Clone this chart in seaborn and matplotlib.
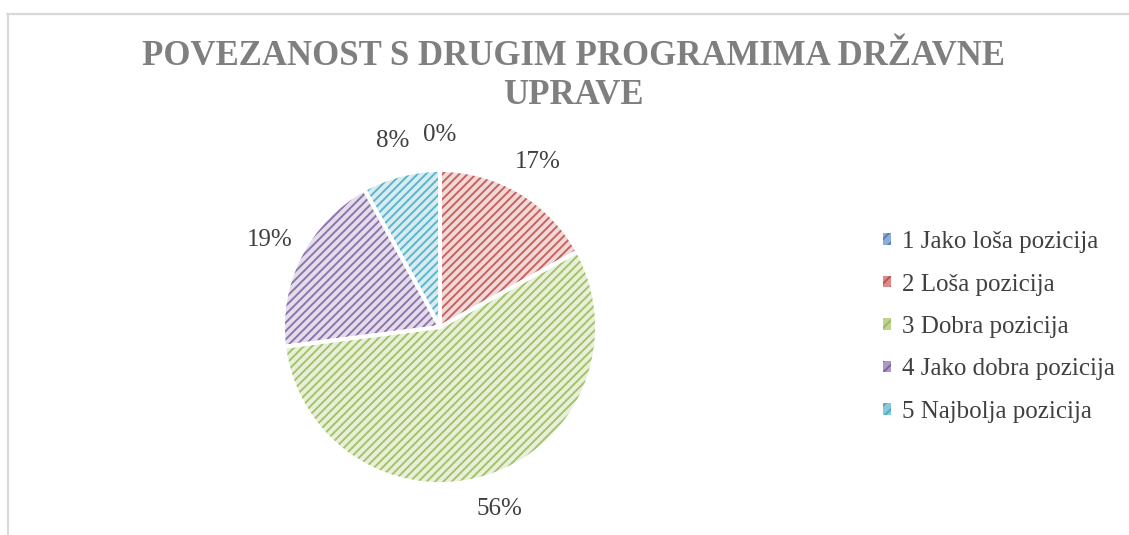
import matplotlib
matplotlib.use("Agg")
import matplotlib.pyplot as plt
import matplotlib.colors as mcolors
from matplotlib.lines import Line2D
from matplotlib.patches import Patch
import seaborn as sns

# data
categories = ["1 Jako loša pozicija", "2 Loša pozicija", "3 Dobra pozicija",
              "4 Jako dobra pozicija", "5 Najbolja pozicija"]
shares = [0, 17, 56, 19, 8]
colors = ["#4F81BD", "#C0504D", "#9BBB59", "#8064A2", "#4BACC6"]
title = "POVEZANOST S DRUGIM PROGRAMIMA DRŽAVNE\nUPRAVE"

sns.set_style("white")
plt.rcParams["font.family"] = ["Liberation Serif", "DejaVu Serif"]
plt.rcParams["hatch.linewidth"] = 1.4


def tint(c, amount=0.78):
    r, g, b = mcolors.to_rgb(c)
    return (r + (1 - r) * amount, g + (1 - g) * amount, b + (1 - b) * amount)


fig = plt.figure(figsize=(11.29, 5.35), dpi=100)
fig.patch.set_facecolor("white")

# pie center at (440, 327) px, radius 157 px -> axes spans 2.5 radius
r = 157
side = 2.5 * r
ax = fig.add_axes([(440 - side / 2) / 1129, (535 - 327 - side / 2) / 535,
                   side / 1129, side / 535])

# hatched fill: light tint + colored stripes
wedges, _ = ax.pie(shares, colors=[tint(c) for c in colors], startangle=90,
                   counterclock=False, wedgeprops=dict(linewidth=0))
for w, c in zip(wedges, colors):
    w.set_hatch("////")
    w.set_edgecolor(tint(c, 0.1))
    w.set_linewidth(0)

# white separators + percentage labels
_, _, pcts = ax.pie(shares, colors=["none"] * len(shares), startangle=90,
                    counterclock=False, autopct="%1.0f%%", pctdistance=1.22,
                    wedgeprops=dict(edgecolor="white", linewidth=2.8),
                    textprops=dict(color="#404040", fontsize=18))

fig.text(0.508, 1 - 40 / 535, title, ha="center", va="top", fontsize=25,
         fontweight="bold", color="#7F7F7F", linespacing=1.22)

legend_handles = [Patch(facecolor=tint(c, 0.35), edgecolor=c, hatch="///",
                        linewidth=0) for c in colors]
fig.legend(legend_handles, categories, loc="center left",
           bbox_to_anchor=(860 / 1129, 1 - 327 / 535), frameon=False,
           fontsize=18, handlelength=0.32, handleheight=0.32,
           handletextpad=0.45, labelspacing=0.82, labelcolor="#404040")

# light chart-area frame (top and left edge visible)
frame_kw = dict(color="#D9D9D9", linewidth=1.6, transform=fig.transFigure)
fig.add_artist(Line2D([7 / 1129, 1.0], [1 - 13.5 / 535, 1 - 13.5 / 535], **frame_kw))
fig.add_artist(Line2D([7.5 / 1129, 7.5 / 1129], [0, 1 - 13.5 / 535], **frame_kw))

fig.savefig("out.png", dpi=100)
